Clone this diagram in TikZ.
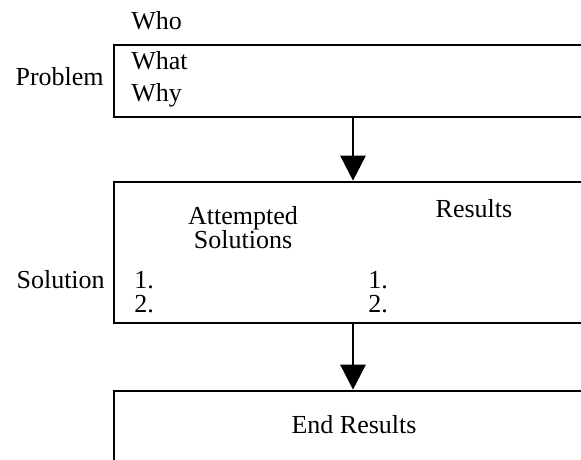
\documentclass[tikz,border=0pt]{standalone}
\usepackage{fontspec}
\setmainfont{Liberation Serif}
\usetikzlibrary{arrows.meta,positioning}
\begin{document}
\begin{tikzpicture}[x=1pt,y=-1pt,line width=2.6pt,
    >={Triangle[length=25pt,width=25pt]},
    box/.style={draw,rectangle,inner sep=0pt,minimum width=486pt},
    lbl/.style={font=\fontsize{26}{24}\selectfont,inner sep=0pt}]
    \clip (0,0) rectangle (581,460);
    \node[box,minimum height=72pt]  (problem)  at (357,81)    {};
    \node[box,minimum height=141pt] (solution) at (357,252.5) {};
    \node[box,minimum height=90pt]  (endres)   at (357,436)   {};
    \coordinate (axis) at (353,0);
    \draw[->] (problem.south -| axis) -- (solution.north -| axis);
    \draw[->] (solution.south -| axis) -- (endres.north -| axis);
    \begin{scope}[every node/.style={lbl}]
        \node[anchor=base west] (who)  at (130,30)  {Who};
        \node[anchor=base west] (what) at (130,70)  {What};
        \node[anchor=base west] (why)  at (130,102) {Why};
        \node[anchor=base east] (problab) at (105,85) {Problem};
        \node[anchor=base east] (sollab)  at (106,288) {Solution};
        \node[anchor=north,align=center] (attempt) at (243,205) {Attempted\\Solutions};
        \node[anchor=base] (results) at (474,217) {Results};
        \node[anchor=north west,align=left] (alist) at (133,270) {1.\\2.};
        \node[anchor=north west,align=left] (rlist) at (367,270) {1.\\2.};
        \node[anchor=base] (endlab) at (354,433) {End Results};
    \end{scope}
\end{tikzpicture}
\end{document}
